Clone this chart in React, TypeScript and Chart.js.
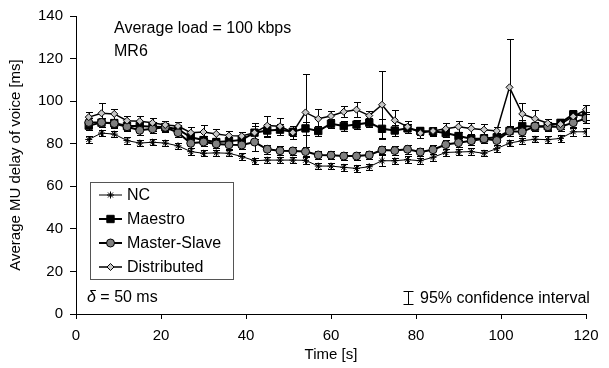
import { useEffect, useRef } from 'react';
import { Chart, registerables } from 'chart.js';
import { drawPoint } from 'chart.js/helpers';

Chart.register(...registerables);

const FONT = "'Liberation Sans', Arial, sans-serif";

const times = [3, 6, 9, 12, 15, 18, 21, 24, 27, 30, 33, 36, 39, 42, 45, 48, 51, 54, 57, 60,
  63, 66, 69, 72, 75, 78, 81, 84, 87, 90, 93, 96, 99, 102, 105, 108, 111, 114, 117, 120];

const ncValues = [82, 85, 84.5, 81.5, 80.3, 80.7, 80.3, 79, 76.3, 75.5, 75.7, 75.5, 74, 72, 72.3, 72.3, 72.3, 72.2, 69.5, 69.5,
  68.9, 68.4, 69.2, 72, 72, 72.5, 72, 73.6, 75.9, 76.1, 76.3, 75.5, 77.7, 80.3, 81.4, 82.1, 81.9, 82.5, 85.6, 85.6];
const ncErrors = [1.5, 1.5, 1.5, 1.5, 1.5, 1.5, 1.5, 1.5, 1.5, 1.5, 1.5, 1.5, 1.5, 1.5, 1.5, 1.5, 1.5, 1.5, 1.5, 1.5,
  1.5, 1.5, 1.5, 2.5, 1.5, 1.5, 1.5, 1.5, 1.5, 1.5, 1.5, 1.5, 1.5, 1.5, 1.5, 1.5, 1.5, 1.5, 2, 2];

const maestroValues = [88.5, 89.9, 89.7, 88.3, 88.3, 88, 87.8, 86.8, 83, 81.7, 80.8, 81.2, 81.8, 85.2, 86.2, 86.6, 85.6, 87.2, 86, 89.4,
  88.3, 89, 89.9, 87, 86.2, 87.2, 86, 85.8, 85, 83.6, 82.3, 82.5, 83, 86, 88.3, 88, 88.3, 89.8, 93.8, 93];
const maestroErrors = [2, 2, 2, 2, 2, 2, 2, 2, 2, 2, 2, 2, 2, 3, 3, 2.5, 2, 3, 2.5, 2,
  2.2, 2, 2, 4.5, 2.5, 2, 2, 2, 2, 2, 2, 2, 2, 2.5, 3, 2, 2, 2, 2, 2];

const masterSlaveValues = [90, 90, 89.5, 88, 86.3, 87, 87.7, 85.2, 80.2, 80.8, 79.9, 79.5, 79.4, 80.8, 77.4, 76.7, 76.6, 76.3, 74.7, 74.6,
  74.2, 74.2, 74.7, 77, 76.8, 77.4, 76.1, 77.2, 79.6, 80.5, 81.4, 82.3, 81.5, 85.8, 85.6, 88.2, 88, 88, 89.9, 91.9];
const masterSlaveErrors = [2, 2, 2, 2, 2, 2, 2, 2, 2, 2, 2, 2, 2, 4.2, 2, 2, 2, 2, 2, 2,
  2, 2, 2, 2, 2, 2, 2, 2, 2, 2, 2, 2, 2, 2, 2, 2, 2, 2, 2, 2];

const distributedValues = [92.5, 94.3, 94, 90.8, 90.6, 89.8, 88.8, 88.3, 85.2, 85.5, 84.6, 83.8, 83.6, 85.2, 88.5, 88.2, 85.3, 94.7, 91.7, 93,
  95, 96, 93.2, 98.3, 91, 88, 85, 86, 87, 88, 87.2, 86.6, 86, 106.5, 94, 91.7, 89.6, 89.2, 92.8, 96];
const distributedErrors = [2.5, 4.7, 2.5, 2.2, 2.5, 2.5, 2, 2, 2.5, 3.5, 2.5, 2, 2, 4.7, 4.7, 4, 3, 18, 4.5, 2.5,
  2.5, 3.6, 2.4, 16, 4.7, 2.8, 2.5, 2, 2.5, 2.5, 2.5, 2.5, 2, 22.7, 5, 4, 2, 2.5, 2.5, 2];

const xTicks = [0, 20, 40, 60, 80, 100, 120];
const yTicks = [0, 20, 40, 60, 80, 100, 120, 140];

const seriesNames = ['NC', 'Maestro', 'Master-Slave', 'Distributed'];

const errorSets = [ncErrors, maestroErrors, masterSlaveErrors, distributedErrors];

const errorBarPlugin = {
  id: 'errorBars',
  beforeDatasetsDraw(chart: any) {
    const ctx = chart.ctx;
    const yScale = chart.scales.y;
    ctx.save();
    ctx.strokeStyle = '#000';
    ctx.lineWidth = 1;
    chart.data.datasets.forEach((ds: any, i: number) => {
      const meta = chart.getDatasetMeta(i);
      const errs = errorSets[i];
      meta.data.forEach((pt: any, j: number) => {
        const v = ds.data[j].y;
        const e = errs[j];
        const x = Math.round(pt.x) + 0.5;
        const yt = Math.round(yScale.getPixelForValue(v + e)) + 0.5;
        const yb = Math.round(yScale.getPixelForValue(v - e)) + 0.5;
        ctx.beginPath();
        ctx.moveTo(x, yt);
        ctx.lineTo(x, yb);
        ctx.moveTo(x - 3.5, yt);
        ctx.lineTo(x + 3.5, yt);
        ctx.moveTo(x - 3.5, yb);
        ctx.lineTo(x + 3.5, yb);
        ctx.stroke();
      });
    });
    ctx.restore();
  },
};

const overlayPlugin = {
  id: 'overlay',
  afterDraw(chart: any) {
    const ctx = chart.ctx;
    ctx.save();
    // annotations
    ctx.fillStyle = '#000';
    ctx.textBaseline = 'middle';
    ctx.textAlign = 'left';
    ctx.font = `16px ${FONT}`;
    ctx.fillText('Average load = 100 kbps', 114, 29);
    ctx.fillText('MR6', 114, 52);
    ctx.font = `italic 16px ${FONT}`;
    ctx.fillText('δ', 87, 298);
    const dw = ctx.measureText('δ').width;
    ctx.font = `16px ${FONT}`;
    ctx.fillText(' = 50 ms', 87 + dw, 298);
    ctx.fillText('95% confidence interval', 420, 299);
    // CI symbol
    ctx.strokeStyle = '#000';
    ctx.lineWidth = 1;
    ctx.beginPath();
    ctx.moveTo(408.5, 291.5);
    ctx.lineTo(408.5, 304.5);
    ctx.moveTo(403.5, 291.5);
    ctx.lineTo(413.5, 291.5);
    ctx.moveTo(403.5, 304.5);
    ctx.lineTo(413.5, 304.5);
    ctx.stroke();

    // legend
    const bx = 90.5, by = 182.5, bw = 143, bh = 97;
    ctx.fillStyle = '#fff';
    ctx.fillRect(bx, by, bw, bh);
    ctx.strokeStyle = '#555';
    ctx.strokeRect(bx, by, bw, bh);
    const rows = [195, 219, 243, 267];
    chart.data.datasets.forEach((ds: any, i: number) => {
      const y = rows[i];
      ctx.strokeStyle = '#000';
      ctx.lineWidth = ds.borderWidth;
      ctx.beginPath();
      ctx.moveTo(99, y);
      ctx.lineTo(122, y);
      ctx.stroke();
      ctx.fillStyle = ds.pointBackgroundColor;
      ctx.strokeStyle = ds.pointBorderColor;
      ctx.lineWidth = ds.pointBorderWidth;
      drawPoint(ctx, { pointStyle: ds.pointStyle, radius: ds.pointRadius, borderWidth: ds.pointBorderWidth, rotation: 0 }, 110.5, y);
      ctx.fillStyle = '#000';
      ctx.font = `16px ${FONT}`;
      ctx.textBaseline = 'middle';
      ctx.fillText(ds.label, 127, y + 1);
    });
    ctx.restore();
  },
};

function toPoints(vals: number[]) {
  return times.map((t, i) => ({ x: t, y: vals[i] }));
}

export default function App() {
  const ref = useRef<HTMLCanvasElement>(null);
  useEffect(() => {
    if (!ref.current) return;
    const chart = new Chart(ref.current, {
      type: 'line',
      data: {
        datasets: [
          {
            label: seriesNames[0], data: toPoints(ncValues), borderColor: '#000', borderWidth: 1,
            pointStyle: 'star', pointRadius: 3.5, pointBorderColor: '#000', pointBackgroundColor: '#000', pointBorderWidth: 1, order: 3,
          },
          {
            label: seriesNames[1], data: toPoints(maestroValues), borderColor: '#000', borderWidth: 2,
            pointStyle: 'rect', pointRadius: 5.2, pointBorderColor: '#000', pointBackgroundColor: '#000', pointBorderWidth: 1, order: 2,
          },
          {
            label: seriesNames[2], data: toPoints(masterSlaveValues), borderColor: '#000', borderWidth: 2,
            pointStyle: 'circle', pointRadius: 4, pointBorderColor: '#000', pointBackgroundColor: '#808080', pointBorderWidth: 1, order: 1,
          },
          {
            label: seriesNames[3], data: toPoints(distributedValues), borderColor: '#000', borderWidth: 1.5,
            pointStyle: 'rectRot', pointRadius: 3.5, pointBorderColor: '#000', pointBackgroundColor: '#c8c8c8', pointBorderWidth: 1, order: 0,
          },
        ],
      } as any,
      options: {
        animation: false,
        responsive: false,
        maintainAspectRatio: false,
        layout: { padding: { top: 16, right: 23, left: 0, bottom: 0 } },
        plugins: { legend: { display: false }, tooltip: { enabled: false } },
        elements: { line: { tension: 0 } },
        scales: {
          x: {
            type: 'linear', min: 0, max: 120,
            afterBuildTicks: (s: any) => { s.ticks = xTicks.map((v) => ({ value: v })); },
            afterFit: (s: any) => { s.height = 54; },
            ticks: { color: '#000', font: { family: FONT, size: 15 }, padding: 8, maxRotation: 0 },
            grid: { drawOnChartArea: false, drawTicks: true, tickLength: 5, color: '#000' },
            border: { color: '#000', width: 1 },
            title: { display: true, text: 'Time [s]', color: '#000', font: { family: FONT, size: 15 }, padding: { top: 0, bottom: 4 } },
          },
          y: {
            type: 'linear', min: 0, max: 140,
            afterBuildTicks: (s: any) => { s.ticks = yTicks.map((v) => ({ value: v })); },
            afterFit: (s: any) => { s.width = 76; },
            ticks: { color: '#000', font: { family: FONT, size: 15 }, padding: 7 },
            grid: { drawOnChartArea: false, drawTicks: true, tickLength: 6, color: '#000' },
            border: { color: '#000', width: 1 },
            title: { display: true, text: 'Average MU delay of voice [ms]', color: '#000', font: { family: FONT, size: 15 }, padding: { top: 7, bottom: 0 } },
          },
        },
      } as any,
      plugins: [errorBarPlugin, overlayPlugin],
    });
    return () => chart.destroy();
  }, []);
  return (
    <div style={{ position: 'absolute', left: 0, top: 0, width: 609, height: 368, background: '#fff' }}>
      <canvas ref={ref} width={609} height={368} style={{ width: 609, height: 368 }} />
    </div>
  );
}
